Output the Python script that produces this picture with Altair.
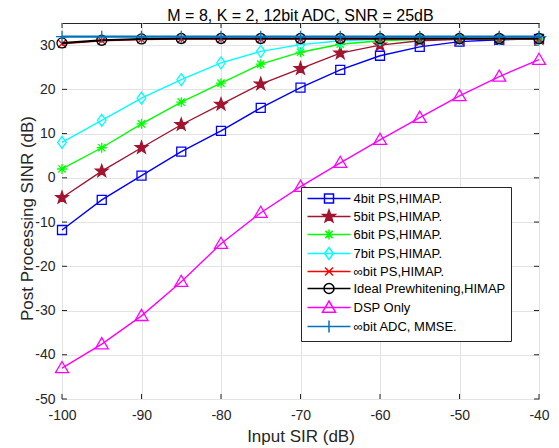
import math
import altair as alt
import pandas as pd

# ---------------- data ----------------
sir = [-100, -95, -90, -85, -80, -75, -70, -65, -60, -55, -50, -45, -40]

series_names = [
    "4bit PS,HIMAP.",
    "5bit PS,HIMAP.",
    "6bit PS,HIMAP.",
    "7bit PS,HIMAP.",
    "\u221ebit PS,HIMAP.",
    "Ideal Prewhitening,HIMAP",
    "DSP Only",
    "\u221ebit ADC, MMSE.",
]

bit4 = [-11.8, -5.0, 0.5, 5.9, 10.6, 15.8, 20.4, 24.4, 27.6, 29.6, 30.8, 31.2, 31.4]
bit5 = [-4.5, 1.5, 6.8, 12.0, 16.6, 21.2, 24.7, 28.2, 30.0, 31.0, 31.3, 31.4, 31.4]
bit6 = [2.0, 6.8, 12.2, 17.1, 21.4, 25.7, 28.4, 30.2, 31.0, 31.3, 31.4, 31.4, 31.4]
bit7 = [8.0, 13.0, 18.0, 22.2, 26.0, 28.6, 30.1, 31.0, 31.3, 31.4, 31.4, 31.4, 31.4]
inf_ps = [30.3, 31.0, 31.3, 31.4, 31.4, 31.4, 31.4, 31.4, 31.4, 31.4, 31.4, 31.4, 31.4]
ideal = [30.5, 31.1, 31.4, 31.5, 31.5, 31.5, 31.5, 31.5, 31.5, 31.5, 31.5, 31.5, 31.5]
dsp = [-43.0, -37.6, -31.2, -23.5, -14.9, -7.9, -2.0, 3.4, 8.6, 13.6, 18.5, 22.9, 26.7]
mmse = [31.9] * 13

series_values = [bit4, bit5, bit6, bit7, inf_ps, ideal, dsp, mmse]

x_ticks = [-100, -90, -80, -70, -60, -50, -40]
y_ticks = [-50, -40, -30, -20, -10, 0, 10, 20, 30]

colors = ["#0000FF", "#A2142F", "#00FF00", "#00FFFF", "#FF0000", "#000000", "#FF00FF", "#0072BD"]
fills = ["transparent", "#A2142F", "transparent", "transparent", "transparent", "transparent", "transparent", "transparent"]
line_widths = [1.4, 1.4, 1.4, 1.4, 1.6, 2.0, 1.4, 2.2]
marker_px = [4.5, 6.5, 5.0, 6.0, 4.0, 5.0, 6.5, 6.0]  # marker half-size in px

# ---------------- marker geometry ----------------
def f(v):
    return f"{v:.3f}"

def m_square(r):
    return f"M{f(-r)},{f(-r)}L{f(r)},{f(-r)}L{f(r)},{f(r)}L{f(-r)},{f(r)}Z"

def m_star(r):
    pts = []
    for k in range(10):
        ang = math.radians(-90 + 36 * k)
        rr = r if k % 2 == 0 else r * 0.4
        pts.append((rr * math.cos(ang), rr * math.sin(ang)))
    return "M" + "L".join(f"{f(x)},{f(y)}" for x, y in pts) + "Z"

def m_aster(r):
    d = 0.72 * r
    return (f"M{f(-r)},0L{f(r)},0M0,{f(-r)}L0,{f(r)}"
            f"M{f(-d)},{f(-d)}L{f(d)},{f(d)}M{f(-d)},{f(d)}L{f(d)},{f(-d)}")

def m_diamond(r):
    return f"M{f(-0.72*r)},0L0,{f(-r)}L{f(0.72*r)},0L0,{f(r)}Z"

def m_x(r):
    return f"M{f(-r)},{f(-r)}L{f(r)},{f(r)}M{f(-r)},{f(r)}L{f(r)},{f(-r)}"

def m_circle(r):
    return f"M{f(r)},0A{f(r)},{f(r)} 0 1,1 {f(-r)},0A{f(r)},{f(r)} 0 1,1 {f(r)},0Z"

def m_tri(r):
    return f"M0,{f(-r)}L{f(r)},{f(0.72*r)}L{f(-r)},{f(0.72*r)}Z"

def m_plus(r):
    return f"M{f(-r)},0L{f(r)},0M0,{f(-r)}L0,{f(r)}"

marker_funcs = [m_square, m_star, m_aster, m_diamond, m_x, m_circle, m_tri, m_plus]

plot_shapes = [fn(1.0) for fn in marker_funcs]
plot_sizes = [(2 * r) ** 2 for r in marker_px]

# legend symbols: small nominal size, path extends beyond the unit box to draw line + marker
LEG_SIZE = 100.0            # nominal symbol area -> sqrt = 10px, unit = 5px
LEG_UNIT = math.sqrt(LEG_SIZE) / 2
LEG_HALF = 21.5             # half legend line length in px
legend_shapes = [f"M{f(-LEG_HALF/LEG_UNIT)},0L{f(LEG_HALF/LEG_UNIT)},0" + fn(r / LEG_UNIT)
                 for fn, r in zip(marker_funcs, marker_px)]

# ---------------- table ----------------
rows = []
for name, vals in zip(series_names, series_values):
    for xv, yv in zip(sir, vals):
        rows.append({"sir": xv, "sinr": yv, "series": name})
df = pd.DataFrame(rows)

W, H = 477, 376
XDOM = [-100, -40]
YDOM = [-50, 35]

x_enc = alt.X("sir:Q", scale=alt.Scale(domain=XDOM, nice=False),
              axis=alt.Axis(values=x_ticks, title="Input SIR (dB)"))
y_enc = alt.Y("sinr:Q", scale=alt.Scale(domain=YDOM, nice=False),
              axis=alt.Axis(values=y_ticks, title="Post Processing SINR (dB)",
                            titleX=-26, titleY=195))

sdom = series_names

series_layers = []
for i, name in enumerate(series_names):
    base = alt.Chart(df).transform_filter(alt.datum.series == name)
    series_layers.append(
        base.mark_line(stroke=colors[i], strokeWidth=line_widths[i]).encode(
            x=x_enc, y=y_enc, order=alt.Order("sir:Q"))
    )
    series_layers.append(
        base.mark_point(
            filled=False, shape=plot_shapes[i], size=plot_sizes[i],
            stroke=colors[i], fill=fills[i], strokeWidth=1.3, opacity=1,
        ).encode(x=x_enc, y=y_enc)
    )

leg = alt.Legend(title=None, orient="none", legendX=239, legendY=164,
                 symbolSize=LEG_SIZE, symbolStrokeWidth=1.5, symbolOffset=16.5,
                 symbolOpacity=1,
                 labelFont="Liberation Sans", labelFontSize=13, labelColor="#000000",
                 labelLimit=400, labelOffset=18,
                 strokeColor="#262626", fillColor="#FFFFFF", padding=5,
                 rowPadding=1, cornerRadius=0)

# invisible layer that only carries the legend (symbols = line + marker)
legend_layer = alt.Chart(df).mark_point(
    filled=False, strokeWidth=1.5, size=LEG_SIZE, opacity=0
).encode(
    x=x_enc, y=y_enc,
    stroke=alt.Stroke("series:N", scale=alt.Scale(domain=sdom, range=colors), legend=leg),
    fill=alt.Fill("series:N", scale=alt.Scale(domain=sdom, range=fills), legend=leg),
    shape=alt.Shape("series:N", scale=alt.Scale(domain=sdom, range=legend_shapes), legend=leg),
)

# inward tick marks (MATLAB style box ticks)
xt = pd.DataFrame({"t": x_ticks})
yt = pd.DataFrame({"t": y_ticks})
tick_col = "#262626"
xs = alt.X("t:Q", scale=alt.Scale(domain=XDOM, nice=False))
ys = alt.Y("t:Q", scale=alt.Scale(domain=YDOM, nice=False))
tb = alt.Chart(xt).mark_rule(color=tick_col, strokeWidth=1).encode(x=xs, y=alt.value(H), y2=alt.value(H - 5))
tt = alt.Chart(xt).mark_rule(color=tick_col, strokeWidth=1).encode(x=xs, y=alt.value(0), y2=alt.value(5))
tl = alt.Chart(yt).mark_rule(color=tick_col, strokeWidth=1).encode(y=ys, x=alt.value(0), x2=alt.value(5))
tr = alt.Chart(yt).mark_rule(color=tick_col, strokeWidth=1).encode(y=ys, x=alt.value(W), x2=alt.value(W - 5))

chart = alt.layer(tb, tt, tl, tr, *series_layers, legend_layer).properties(
    width=W, height=H,
    title=alt.Title("M = 8, K = 2, 12bit ADC, SNR = 25dB", fontSize=16, fontWeight="normal",
                    font="Liberation Sans", color="#000000", offset=-1, anchor="middle"),
    autosize=alt.AutoSizeParams(type="none"),
    padding={"left": 54, "top": 15, "right": 12, "bottom": 47},
).configure_view(
    stroke="#262626", strokeWidth=1
).configure_axis(
    domain=False, ticks=False, grid=True, gridColor="#E3E3E3", gridWidth=1, labelFlush=False,
    labelExpr="'' + datum.value",
    labelFont="Liberation Sans", labelFontSize=14, labelColor="#262626",
    titleFont="Liberation Sans", titleFontSize=17, titleFontWeight="normal", titleColor="#262626",
).configure_axisX(
    labelPadding=9, titlePadding=6,
).configure_axisY(
    labelPadding=7,
)

chart.save("out.html", embed_options={"renderer": "svg", "actions": False})
